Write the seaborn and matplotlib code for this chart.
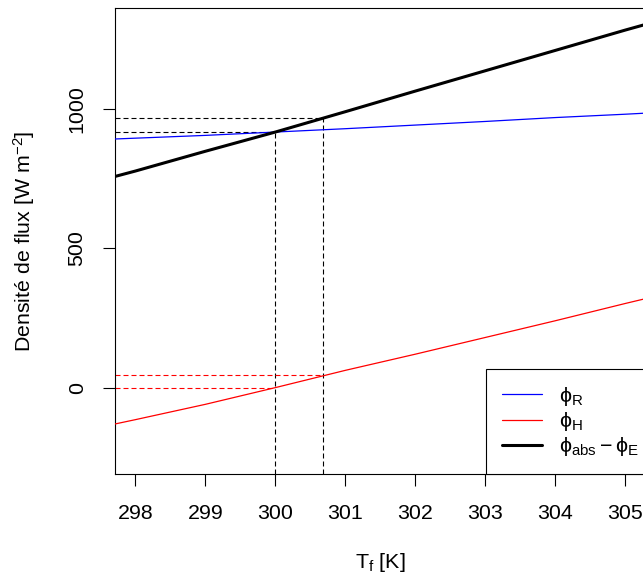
import matplotlib
matplotlib.use("Agg")
import matplotlib.pyplot as plt
import seaborn as sns
import pandas as pd
import numpy as np

# ---- data ----
T_f = [297.7, 298, 299, 300, 301, 302, 303, 304, 305, 305.3]
phi_R = [892, 895, 905, 917, 929, 942, 955, 969, 981, 985]
phi_H = [-131, -115, -60, 0, 62, 120, 180, 240, 302, 320]
phi_absE = [757, 777, 848, 917, 990, 1064, 1137, 1210, 1283, 1304]

# equilibrium markers (dashed guides)
T_eq = [300.0, 300.68]
flux_eq_top = [917, 966.6]
flux_eq_H = [0, 45]

x_ticks = [298, 299, 300, 301, 302, 303, 304, 305]
y_ticks = [0, 500, 1000]
x_lim = (297.71, 305.28)
y_lim = (-311, 1361)

sns.set_style("white")
plt.rcParams["font.family"] = ["Liberation Sans", "DejaVu Sans"]
plt.rcParams["mathtext.fontset"] = "custom"
plt.rcParams["mathtext.rm"] = "Liberation Sans"
plt.rcParams["mathtext.it"] = "Liberation Sans:italic"
plt.rcParams["mathtext.sf"] = "Liberation Sans"
plt.rcParams["mathtext.default"] = "regular"
plt.rcParams["mathtext.fallback"] = "stixsans"
plt.rcParams["text.color"] = "black"
plt.rcParams["axes.labelcolor"] = "black"
plt.rcParams["xtick.color"] = "black"
plt.rcParams["ytick.color"] = "black"

FS = 15.4
fig = plt.figure(figsize=(6.43, 5.77), dpi=100)
ax = fig.add_axes([115 / 643, 1 - 474.3 / 577, (645 - 115) / 643, (474.3 - 8.3) / 577])

df = pd.DataFrame({"T": T_f, "R": phi_R, "H": phi_H, "AE": phi_absE})

# dashed guides
dash = (0, (4.5, 2.7))
for t, yt in zip(T_eq, flux_eq_top):
    ax.plot([t, t], [y_lim[0], yt], color="black", lw=0.8, linestyle=dash, zorder=1)
    ax.plot([x_lim[0], t], [yt, yt], color="black", lw=0.8, linestyle=dash, zorder=1)
for t, yh in zip(T_eq, flux_eq_H):
    ax.plot([x_lim[0], t], [yh, yh], color="red", lw=0.8, linestyle=dash, zorder=1)

sns.lineplot(data=df, x="T", y="R", ax=ax, color="#0000FF", lw=0.9, label=r"$\phi_R$", zorder=3)
sns.lineplot(data=df, x="T", y="H", ax=ax, color="#FF0000", lw=0.9, label=r"$\phi_H$", zorder=3)
sns.lineplot(data=df, x="T", y="AE", ax=ax, color="black", lw=2.2, label=r"$\phi_{abs} - \phi_E$", zorder=3)

ax.set_xlim(*x_lim)
ax.set_ylim(*y_lim)
ax.set_xticks(x_ticks)
ax.set_yticks(y_ticks)
ax.set_xticklabels([str(v) for v in x_ticks], fontsize=FS, color="black")
ax.set_yticklabels([str(v) for v in y_ticks], fontsize=FS, rotation=90, va="center", color="black")
ax.tick_params(axis="both", direction="out", length=8.4, width=0.8, color="black",
               bottom=True, left=True, top=False, right=False)
ax.tick_params(axis="x", pad=13)
ax.tick_params(axis="y", pad=12)
for s in ax.spines.values():
    s.set_visible(True)
    s.set_color("black")
    s.set_linewidth(0.8)

ax.set_xlabel(r"$T_f$ [K]", fontsize=FS, labelpad=20, color="black")
ax.set_ylabel(r"Densité de flux [W m$^{-2}$]", fontsize=FS, labelpad=22, color="black")

leg = ax.legend(loc="lower left", bbox_to_anchor=(485.7 / 643, 1 - 474.3 / 577),
                bbox_transform=fig.transFigure, borderaxespad=0, fontsize=FS,
                frameon=True, fancybox=False, shadow=False, handlelength=1.87,
                handletextpad=0.8, borderpad=0.75, labelspacing=0.1)
leg.get_frame().set_edgecolor("black")
leg.get_frame().set_linewidth(0.8)
leg.get_frame().set_alpha(1)
for t in leg.get_texts():
    t.set_color("black")

fig.savefig("out.png", dpi=100)
